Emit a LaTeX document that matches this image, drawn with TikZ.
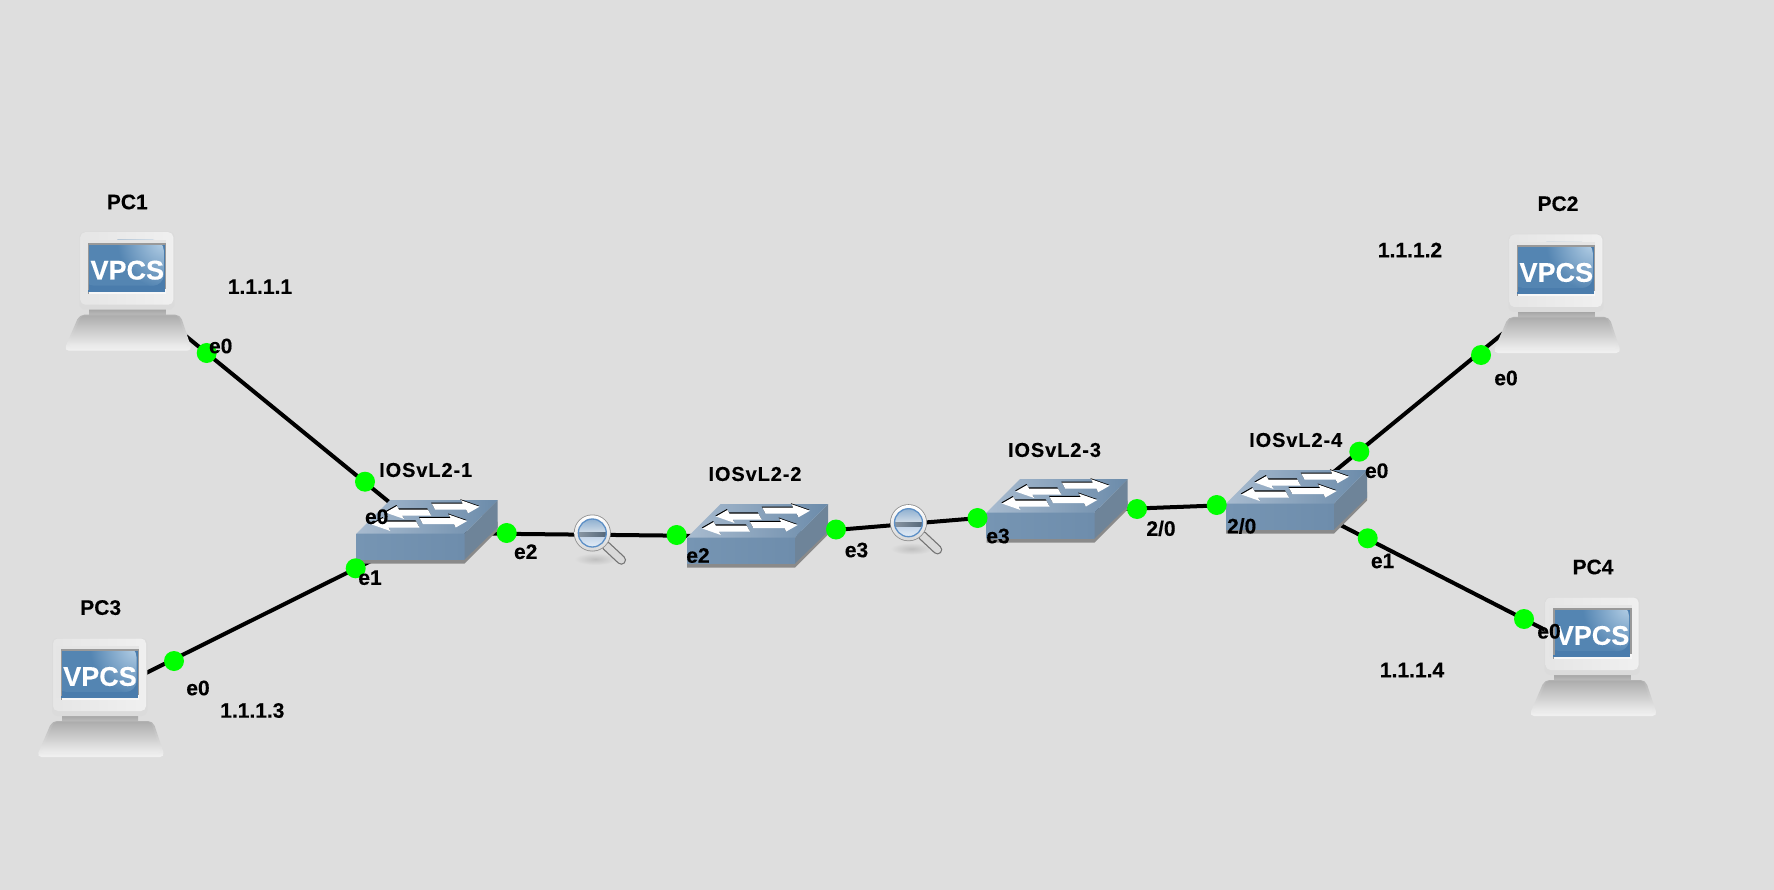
\documentclass[tikz,border=0pt]{standalone}
\usepackage{fontspec}
\setmainfont[BoldFeatures={FakeBold=0.25}]{Liberation Sans}
\newfontfamily\lblfont[LetterSpace=4.5,BoldFeatures={FakeBold=0.25}]{Liberation Sans}
\usetikzlibrary{calc,shadings}
\definecolor{bgc}{HTML}{DEDEDE}
\definecolor{swfront}{HTML}{6E8DAC}
\definecolor{swfrontl}{HTML}{7695B3}
\definecolor{swside}{HTML}{6E8499}
\definecolor{swtopl}{HTML}{A8BBCF}
\definecolor{swtopr}{HTML}{6B8BAA}
\definecolor{swshadow}{HTML}{8A8A8A}
\definecolor{scrblue}{HTML}{4A7CAC}
\definecolor{scrbase}{HTML}{5485B2}
\definecolor{scrlight}{HTML}{B4CFE6}
\definecolor{lenstop}{HTML}{8FB0D0}
\definecolor{lensmid}{HTML}{D2DDE8}
\definecolor{lensring}{HTML}{5C8FC6}
\definecolor{lensband}{HTML}{56687A}
\definecolor{lenslow}{HTML}{C3D4E8}
\definecolor{lensbot}{HTML}{E2ECF6}
\newcommand{\swarrowg}[4]{%
  \begin{scope}[shift={(#1,#2)},xslant=-0.55,xscale=#3]
    \fill[black] (0,-4.2) -- (#4-15,-4.2) -- (#4-15,-7.5) -- (#4,-1) -- (#4-15,5.5) -- (#4-15,2) -- (0,2) -- cycle;
    \fill[white] (0,-3) -- (#4-15,-3) -- (#4-15,-6.5) -- (#4,0) -- (#4-15,6.5) -- (#4-15,3) -- (0,3) -- cycle;
  \end{scope}%
}
\tikzset{
  link/.style={line width=4pt,black},
  port/.style={circle,fill=green,draw=none,minimum size=20pt,inner sep=0pt},
  txt/.style={font=\bfseries\fontsize{21}{23}\selectfont,text=black,inner sep=0pt},
  swname/.style={font=\lblfont\bfseries\fontsize{20}{22}\selectfont,text=black,inner sep=0pt},
  pcicon/.pic={
    % neck
    \shade[top color=black!38,bottom color=black!25] (10,76) rectangle (86,84);
    % base
    \shade[top color=black!30,bottom color=black!5,rounded corners=5pt]
      (0,83) -- (101,83) -- (113,119) -- (-15.5,119) -- cycle;
    \shade[top color=black!32,bottom color=black!7,rounded corners=3pt]
      (2,84) -- (99,84) -- (109,115) -- (-11,115) -- cycle;
    % monitor
    \fill[black!14,rounded corners=6pt] (0,0) rectangle (95.4,78);
    \shade[left color=black!10,right color=black!6,rounded corners=5pt] (1,0.5) rectangle (94,73);
    % screen
    \fill[black!40] (8.6,11.2) rectangle (87,62);
    \fill[black!3] (9.5,57) rectangle (87,62);
    \fill[scrblue] (10,13) rectangle (85.7,60.3);
    \begin{scope}
      \clip[rounded corners=11pt] (4,8) rectangle (84.5,54);
      \fill[scrbase] (4,8) rectangle (84.5,54);
      \shade[inner color=scrlight,outer color=scrbase] (84,10) circle (46);
    \end{scope}
    \fill[scrblue] (4,8) rectangle (10,60.3);
    \fill[black!40] (8.6,11.2) rectangle (10,58);
    \fill[black!10] (4,8) rectangle (8.6,60);
    \fill[black!40] (8.6,11.2) rectangle (87,13);
    \fill[black!10] (8,8) rectangle (87,11.2);
    \node[font=\bfseries\fontsize{27}{29}\selectfont,text=white,inner sep=0pt] (vpcs) at (48,38.5) {VPCS};
  },
  swicon/.pic={
    % shadow
    \fill[swshadow] (0,20) -- (108,20) -- (141,-12) -- (141,-3) -- (108,30) -- (0,30) -- cycle;
    % faces
    \shade[left color=swfrontl,right color=swfront] (0,0) rectangle (108,26);
    \fill[swside] (108,0) -- (141,-33.5) -- (141,-6) -- (108,26) -- cycle;
    \shade[left color=swtopl,right color=swtopr]
      (0,0) -- (33.5,-33.5) -- (141,-33.5) -- (108,0) -- cycle;
    \swarrowg{77}{-26.8}{1}{46}
    \swarrowg{73}{-21}{-1}{44}
    \swarrowg{64.7}{-12.5}{1}{46}
    \swarrowg{61.3}{-9}{-1}{46}
  },
  lensicon/.pic={
    \shade[inner color=black!25,outer color=bgc] (3,26) ellipse (21 and 6);
    \draw[line width=9.5pt,black!55,line cap=round] (14,13) -- (29,27);
    \draw[line width=7pt,black!15,line cap=round] (14,13) -- (29,27);
    \fill[black!45] (0,0) circle (18.5);
    \shade[top color=white,bottom color=black!15] (0,0) circle (17.7);
    \begin{scope}
      \clip (0,0) circle (14);
      \shade[top color=lenstop,bottom color=lensmid] (-14,-14) rectangle (14,0);
      \shade[top color=lenslow,bottom color=lensbot] (-14,3) rectangle (14,14);
      \shade[left color=lensband!70,right color=lensband] (-14,-.5) rectangle (14,3.5);
    \end{scope}
    \draw[line width=1.3pt,lensring] (0,0) circle (14);
  },
}
\begin{document}
\begin{tikzpicture}[x=1pt,y=-1pt]
\useasboundingbox (0,0) rectangle (1774,890);
\fill[bgc] (0,0) rectangle (1774,890);
% device centres
\coordinate (pc1) at (127,288);
\coordinate (pc2) at (1556,290);
\coordinate (pc3) at (100,696);
\coordinate (pc4) at (1592,654);
\coordinate (sw1) at (427,533);
\coordinate (sw2) at (757.5,536.5);
\coordinate (sw3) at (1057,511.5);
\coordinate (sw4) at (1296.5,502.5);
% connectors
\draw[link] (pc1) -- (sw1);
\draw[link] (pc3) -- (sw1);
\draw[link] (sw1) -- (sw2);
\draw[link] (sw2) -- (sw3);
\draw[link] (sw3) -- (sw4);
\draw[link] (sw4) -- (pc2);
\draw[link] (sw4) -- (pc4);
% icons
\pic at (79.3,231.7) {pcicon};
\pic at (1508.3,234) {pcicon};
\pic at (52,638) {pcicon};
\pic at (1544.5,597) {pcicon};
\pic at (356.5,533.5) {swicon};
\pic at (687,537.5) {swicon};
\pic at (986.6,512.5) {swicon};
\pic at (1226,503.5) {swicon};
\pic at (592.3,533) {lensicon};
\pic at (908.5,522.7) {lensicon};
% ports
\node[port] (p1) at (206.7,353) {};
\node[port] (p2) at (365,481.7) {};
\node[port] (p3) at (355.7,568.3) {};
\node[port] (p4) at (174,661) {};
\node[port] (p5) at (506.7,533) {};
\node[port] (p6) at (676.6,535) {};
\node[port] (p7) at (836,529.5) {};
\node[port] (p8) at (977.5,518) {};
\node[port] (p9) at (1137,509) {};
\node[port] (p10) at (1216.7,505) {};
\node[port] (p11) at (1359.3,451.7) {};
\node[port] (p12) at (1367.7,538.3) {};
\node[port] (p13) at (1481,355) {};
\node[port] (p14) at (1524,619) {};
% labels
\node[txt] (n1) at (127.3,202) {PC1};
\node[txt] (n2) at (1558,203.7) {PC2};
\node[txt] (n3) at (100.7,607.6) {PC3};
\node[txt] (n4) at (1593,567) {PC4};
\node[txt] (a1) at (260,286.7) {1.1.1.1};
\node[txt] (a2) at (1410,250) {1.1.1.2};
\node[txt] (a3) at (252.3,710.5) {1.1.1.3};
\node[txt] (a4) at (1412,670) {1.1.1.4};
\node[swname] (s1) at (425.7,470) {IOSvL2-1};
\node[swname] (s2) at (755,474) {IOSvL2-2};
\node[swname] (s3) at (1054.5,450) {IOSvL2-3};
\node[swname] (s4) at (1295.7,440) {IOSvL2-4};
\node[txt] (l1) at (220.7,346) {e0};
\node[txt] (l2) at (376.7,516.7) {e0};
\node[txt] (l3) at (370,577.7) {e1};
\node[txt] (l4) at (525.7,551.7) {e2};
\node[txt] (l5) at (698,555.5) {e2};
\node[txt] (l6) at (856.5,550) {e3};
\node[txt] (l7) at (998,536) {e3};
\node[txt] (l8) at (1161,528.4) {2/0};
\node[txt] (l9) at (1241.7,526) {2/0};
\node[txt] (l10) at (1376.7,470.7) {e0};
\node[txt] (l11) at (1382.6,561) {e1};
\node[txt] (l12) at (1506,378) {e0};
\node[txt] (l13) at (1549,631.3) {e0};
\node[txt] (l14) at (198,688) {e0};
\end{tikzpicture}
\end{document}
